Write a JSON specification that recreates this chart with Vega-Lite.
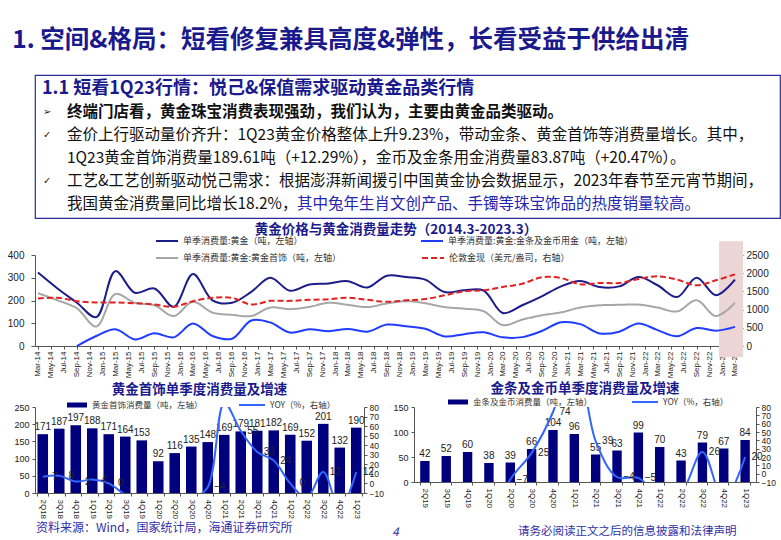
{
  "$schema": "https://vega.github.io/schema/vega-lite/v6.json",
  "background": "white",
  "padding": {"left": 7, "top": 27, "right": 5, "bottom": 2},
  "title": {"text": "1. 空间&格局：短看修复兼具高度&弹性，长看受益于供给出清", "anchor": "start", "fontSize": 24.5, "fontWeight": "bold", "color": "#1a1a8c", "font": "Noto Sans CJK SC", "offset": 21, "dx": 5},
  "config": {
    "view": {"stroke": null},
    "font": "Noto Sans CJK SC",
    "axis": {"labelFont": "Liberation Sans", "labelColor": "#222", "domainColor": "#555", "tickColor": "#555", "grid": false, "labelOverlap": false},
    "legend": {"labelFont": "Noto Sans CJK SC", "labelColor": "#333", "padding": 0, "labelLimit": 400},
    "title": {"font": "Noto Sans CJK SC"}
  },
  "datasets": {
    "notes": [
      {"line": 1, "kind": "heading", "bullet": null, "text": "1.1 短看1Q23行情：悦己&保值需求驱动黄金品类行情"},
      {"line": 2, "kind": "lead", "bullet": "➢", "text": "终端门店看，黄金珠宝消费表现强劲，我们认为，主要由黄金品类驱动。"},
      {"line": 3, "kind": "body", "bullet": "✓", "text": "金价上行驱动量价齐升：1Q23黄金价格整体上升9.23%，带动金条、黄金首饰等消费量增长。其中，"},
      {"line": 4, "kind": "body", "bullet": null, "text": "1Q23黄金首饰消费量189.61吨（+12.29%），金币及金条用金消费量83.87吨（+20.47%）。"},
      {"line": 5, "kind": "body", "bullet": "✓", "text": "工艺&工艺创新驱动悦己需求：根据澎湃新闻援引中国黄金协会数据显示，2023年春节至元宵节期间，"},
      {"line": 6, "kind": "body", "bullet": null, "text": "我国黄金消费量同比增长18.2%，"},
      {"line": 6, "kind": "highlight", "bullet": null, "text": "其中兔年生肖文创产品、手镯等珠宝饰品的热度销量较高。"}
    ],
    "footer": [
      {"kind": "source", "text": "资料来源：Wind，国家统计局，海通证券研究所"},
      {"kind": "page", "text": "4"},
      {"kind": "notice", "text": "请务必阅读正文之后的信息披露和法律声明"}
    ],
    "trend": [
      {"date": "2014-03-01", "total": 323, "jewelry": 232, "barcoin": null, "gold": 1305},
      {"date": "2014-06-01", "total": 253, "jewelry": 201, "barcoin": null, "gold": 1324},
      {"date": "2014-09-01", "total": 190, "jewelry": 165, "barcoin": 0, "gold": 1232},
      {"date": "2014-12-01", "total": 127, "jewelry": 86, "barcoin": 44, "gold": 1195},
      {"date": "2015-03-01", "total": 329, "jewelry": 228, "barcoin": 74, "gold": 1195},
      {"date": "2015-06-01", "total": 234, "jewelry": 190, "barcoin": 29, "gold": 1176},
      {"date": "2015-09-01", "total": 253, "jewelry": 179, "barcoin": 56, "gold": 1140},
      {"date": "2015-12-01", "total": 172, "jewelry": 132, "barcoin": 38, "gold": 1075},
      {"date": "2016-03-01", "total": 316, "jewelry": 194, "barcoin": 99, "gold": 1232},
      {"date": "2016-06-01", "total": 201, "jewelry": 147, "barcoin": 44, "gold": 1324},
      {"date": "2016-09-01", "total": 190, "jewelry": 137, "barcoin": 32, "gold": 1324},
      {"date": "2016-12-01", "total": 238, "jewelry": 132, "barcoin": 112, "gold": 1140},
      {"date": "2017-03-01", "total": 300, "jewelry": 169, "barcoin": 103, "gold": 1240},
      {"date": "2017-06-01", "total": 243, "jewelry": 162, "barcoin": 59, "gold": 1240},
      {"date": "2017-09-01", "total": 270, "jewelry": 172, "barcoin": 74, "gold": 1268},
      {"date": "2017-12-01", "total": 275, "jewelry": 190, "barcoin": 65, "gold": 1287},
      {"date": "2018-03-01", "total": 285, "jewelry": 181, "barcoin": 75, "gold": 1324},
      {"date": "2018-06-01", "total": 257, "jewelry": 171, "barcoin": 63, "gold": 1268},
      {"date": "2018-09-01", "total": 309, "jewelry": 187, "barcoin": 94, "gold": 1213},
      {"date": "2018-12-01", "total": 303, "jewelry": 197, "barcoin": 87, "gold": 1255},
      {"date": "2019-03-01", "total": 292, "jewelry": 188, "barcoin": 76, "gold": 1291},
      {"date": "2019-06-01", "total": 237, "jewelry": 171, "barcoin": 42, "gold": 1392},
      {"date": "2019-09-01", "total": 245, "jewelry": 164, "barcoin": 52, "gold": 1502},
      {"date": "2019-12-01", "total": 244, "jewelry": 153, "barcoin": 60, "gold": 1529},
      {"date": "2020-03-01", "total": 145, "jewelry": 92, "barcoin": 38, "gold": 1621},
      {"date": "2020-06-01", "total": 179, "jewelry": 116, "barcoin": 39, "gold": 1712},
      {"date": "2020-09-01", "total": 218, "jewelry": 135, "barcoin": 66, "gold": 1887},
      {"date": "2020-12-01", "total": 262, "jewelry": 148, "barcoin": 104, "gold": 1868},
      {"date": "2021-03-01", "total": 286, "jewelry": 169, "barcoin": 96, "gold": 1695},
      {"date": "2021-06-01", "total": 259, "jewelry": 179, "barcoin": 55, "gold": 1731},
      {"date": "2021-09-01", "total": 262, "jewelry": 181, "barcoin": 63, "gold": 1731},
      {"date": "2021-12-01", "total": 303, "jewelry": 182, "barcoin": 99, "gold": 1840},
      {"date": "2022-03-01", "total": 267, "jewelry": 169, "barcoin": 70, "gold": 1914},
      {"date": "2022-06-01", "total": 215, "jewelry": 152, "barcoin": 43, "gold": 1822},
      {"date": "2022-09-01", "total": 300, "jewelry": 201, "barcoin": 79, "gold": 1667},
      {"date": "2022-12-01", "total": 223, "jewelry": 132, "barcoin": 67, "gold": 1804},
      {"date": "2023-03-01", "total": 292, "jewelry": 190, "barcoin": 84, "gold": 1969}
    ],
    "jewelryQ": [
      {"q": "2Q18", "tons": 171, "yoy": 7},
      {"q": "3Q18", "tons": 187, "yoy": 8},
      {"q": "4Q18", "tons": 197, "yoy": 2},
      {"q": "1Q19", "tons": 188, "yoy": 4},
      {"q": "2Q19", "tons": 171, "yoy": 0},
      {"q": "3Q19", "tons": 164, "yoy": -12},
      {"q": "4Q19", "tons": 153, "yoy": -22},
      {"q": "1Q20", "tons": 92, "yoy": -51},
      {"q": "2Q20", "tons": 116, "yoy": -32},
      {"q": "3Q20", "tons": 135, "yoy": -18},
      {"q": "4Q20", "tons": 148, "yoy": -4},
      {"q": "1Q21", "tons": 169, "yoy": 84},
      {"q": "2Q21", "tons": 179, "yoy": 55},
      {"q": "3Q21", "tons": 181, "yoy": 33},
      {"q": "4Q21", "tons": 182, "yoy": 24},
      {"q": "1Q22", "tons": 169, "yoy": 0},
      {"q": "2Q22", "tons": 152, "yoy": -15},
      {"q": "3Q22", "tons": 201, "yoy": 12},
      {"q": "4Q22", "tons": 132, "yoy": -27},
      {"q": "1Q23", "tons": 190, "yoy": 12}
    ],
    "barcoinQ": [
      {"q": "2Q19", "tons": 42, "yoy": -30},
      {"q": "3Q19", "tons": 52, "yoy": -28},
      {"q": "4Q19", "tons": 60, "yoy": -24},
      {"q": "1Q20", "tons": 38, "yoy": -58},
      {"q": "2Q20", "tons": 39, "yoy": -7},
      {"q": "3Q20", "tons": 66, "yoy": 25},
      {"q": "4Q20", "tons": 104, "yoy": 74},
      {"q": "1Q21", "tons": 96, "yoy": 153},
      {"q": "2Q21", "tons": 55, "yoy": 39},
      {"q": "3Q21", "tons": 63, "yoy": -4},
      {"q": "4Q21", "tons": 99, "yoy": -5},
      {"q": "1Q22", "tons": 70, "yoy": -27},
      {"q": "2Q22", "tons": 43, "yoy": -22},
      {"q": "3Q22", "tons": 79, "yoy": 26},
      {"q": "4Q22", "tons": 67, "yoy": -32},
      {"q": "1Q23", "tons": 84, "yoy": 20}
    ]
  },
  "spacing": 3,
  "resolve": {
    "scale": {"color": "independent", "fill": "independent", "stroke": "independent", "strokeDash": "independent"},
    "legend": {"color": "independent", "fill": "independent", "stroke": "independent", "strokeDash": "independent"}
  },
  "vconcat": [
    {
      "width": 745,
      "height": 143,
      "view": {"stroke": "#2b2b9b", "strokeWidth": 1.2},
      "data": {"name": "notes"},
      "encoding": {
        "y": {"field": "line", "type": "ordinal", "scale": {"type": "point", "padding": 0.6}, "axis": {"domain": false, "ticks": false, "labelOpacity": 0, "labelFontSize": 10, "labelPadding": 3, "title": null}},
        "x": {"datum": 0, "type": "quantitative", "scale": {"domain": [0, 1]}, "axis": null}
      },
      "layer": [
        {"transform": [{"filter": "datum.kind == 'heading'"}], "mark": {"type": "text", "align": "left", "baseline": "middle", "dx": 7, "fontSize": 18, "fontWeight": "bold", "color": "#1a1a8c"}, "encoding": {"text": {"field": "text"}}},
        {"transform": [{"filter": "datum.bullet != null"}], "mark": {"type": "text", "align": "left", "baseline": "middle", "dx": 8, "fontSize": 10, "font": "DejaVu Sans", "color": "#222"}, "encoding": {"text": {"field": "bullet"}}},
        {"transform": [{"filter": "datum.kind == 'lead'"}], "mark": {"type": "text", "align": "left", "baseline": "middle", "dx": 32, "fontSize": 15.5, "fontWeight": "bold", "color": "#111"}, "encoding": {"text": {"field": "text"}}},
        {"transform": [{"filter": "datum.kind == 'body'"}], "mark": {"type": "text", "align": "left", "baseline": "middle", "dx": 32, "fontSize": 15.5, "color": "#111"}, "encoding": {"text": {"field": "text"}}},
        {"transform": [{"filter": "datum.kind == 'highlight'"}], "mark": {"type": "text", "align": "left", "baseline": "middle", "dx": 262, "fontSize": 15.5, "color": "#2525b0"}, "encoding": {"text": {"field": "text"}}}
      ]
    },
    {
      "width": 704,
      "height": 91,
      "title": {"text": "黄金价格与黄金消费量走势（2014.3-2023.3）", "fontSize": 13.5, "fontWeight": "bold", "color": "#1a1a8c", "offset": -7, "dx": 9},
      "layer": [
        {
          "data": {"values": [{"start": "2022-12-16", "end": "2023-04-08"}]},
          "mark": {"type": "rect", "color": "#ecd5d5"},
          "encoding": {
            "x": {"field": "start", "type": "temporal", "scale": {"domain": [{"year": 2014, "month": 2, "date": 15}, {"year": 2023, "month": 3, "date": 20}]}, "axis": {"format": "%b-%y", "labelAngle": -90, "tickCount": {"interval": "month", "step": 2}, "labelFontSize": 8, "labelFlush": false, "labelOverlap": false, "title": null, "tickSize": 3, "labelPadding": 2}},
            "x2": {"field": "end"},
            "y": {"datum": 460, "type": "quantitative", "scale": {"domain": [0, 400]}, "axis": null},
            "y2": {"datum": -48}
          }
        },
        {
          "layer": [
            {
              "data": {"name": "trend"},
              "transform": [{"fold": ["total", "barcoin"], "as": ["series", "value"]}],
              "mark": {"type": "line", "interpolate": "catmull-rom", "strokeWidth": 2},
              "encoding": {
                "x": {"field": "date", "type": "temporal"},
                "y": {"field": "value", "type": "quantitative", "scale": {"domain": [0, 400]}, "axis": {"orient": "left", "values": [0, 100, 200, 300, 400], "labelFontSize": 10, "tickSize": 4, "labelPadding": 7, "labelOverlap": false, "title": null}},
                "color": {"field": "series", "type": "nominal", "scale": {"domain": ["total", "barcoin"], "range": ["#1c1c8a", "#1f3cff"]},
                  "legend": {"orient": "none", "legendX": 120, "legendY": -26, "columns": 2, "direction": "horizontal", "title": null, "symbolType": "stroke", "symbolSize": 484, "symbolStrokeWidth": 2, "labelFontSize": 9, "columnPadding": 114,
                    "labelExpr": "datum.value == 'total' ? '单季消费量:黄金（吨，左轴）' : '单季消费量:黄金:金条及金币用金（吨，左轴）'"}}
              }
            },
            {
              "data": {"name": "trend"},
              "transform": [{"fold": ["jewelry"], "as": ["series", "value"]}],
              "mark": {"type": "line", "interpolate": "catmull-rom", "strokeWidth": 2},
              "encoding": {
                "x": {"field": "date", "type": "temporal"},
                "y": {"field": "value", "type": "quantitative", "scale": {"domain": [0, 400]}, "axis": {"orient": "left", "values": [0, 100, 200, 300, 400], "labelFontSize": 10, "tickSize": 4, "labelPadding": 7, "labelOverlap": false, "title": null}},
                "stroke": {"field": "series", "type": "nominal", "scale": {"domain": ["jewelry", "gold"], "range": ["#a6a6a6", "#e02222"]},
                  "legend": {"orient": "none", "legendX": 120, "legendY": -9, "columns": 2, "direction": "horizontal", "title": null, "symbolType": "stroke", "symbolSize": 484, "symbolStrokeWidth": 2, "labelFontSize": 9, "columnPadding": 76,
                    "labelExpr": "datum.value == 'jewelry' ? '单季消费量:黄金:黄金首饰（吨，左轴）' : '伦敦金现（美元/盎司，右轴）'"}},
                "strokeDash": {"field": "series", "type": "nominal", "scale": {"domain": ["jewelry", "gold"], "range": [[1, 0], [6, 3]]},
                  "legend": {"orient": "none", "legendX": 120, "legendY": -9, "columns": 2, "direction": "horizontal", "title": null, "symbolType": "stroke", "symbolSize": 484, "symbolStrokeWidth": 2, "labelFontSize": 9, "columnPadding": 76,
                    "labelExpr": "datum.value == 'jewelry' ? '单季消费量:黄金:黄金首饰（吨，左轴）' : '伦敦金现（美元/盎司，右轴）'"}}
              }
            }
          ]
        },
        {
          "data": {"name": "trend"},
          "transform": [{"fold": ["gold"], "as": ["series", "value"]}],
          "mark": {"type": "line", "interpolate": "catmull-rom", "strokeWidth": 2},
          "encoding": {
            "x": {"field": "date", "type": "temporal"},
            "y": {"field": "value", "type": "quantitative", "scale": {"domain": [0, 2500]}, "axis": {"orient": "right", "values": [0, 500, 1000, 1500, 2000, 2500], "format": "d", "labelFontSize": 10, "tickSize": 4, "labelPadding": 3, "labelOverlap": false, "title": null}},
            "stroke": {"field": "series", "type": "nominal"},
            "strokeDash": {"field": "series", "type": "nominal"}
          }
        }
      ],
      "resolve": {"scale": {"y": "independent"}}
    },
    {
      "hconcat": [
        {
          "width": 329,
          "height": 86,
          "title": {"text": "黄金首饰单季度消费量及增速", "fontSize": 13.5, "fontWeight": "bold", "color": "#1a1a8c", "offset": -5},
          "data": {"name": "jewelryQ"},
          "encoding": {
            "x": {"field": "q", "type": "ordinal", "sort": null, "scale": {"paddingInner": 0.36, "paddingOuter": 0.15}, "axis": {"labelAngle": 90, "labelFontSize": 8, "title": null, "tickBand": "extent", "tickSize": 3, "labelPadding": 3}}
          },
          "layer": [
            {
              "layer": [
                {
                  "mark": {"type": "bar"},
                  "encoding": {
                    "y": {"field": "tons", "type": "quantitative", "scale": {"domain": [0, 250]}, "axis": {"orient": "left", "values": [0, 50, 100, 150, 200, 250], "labelFontSize": 9, "tickSize": 3, "labelPadding": 3, "labelOverlap": false, "title": null}},
                    "fill": {"datum": "黄金首饰消费量（吨，左轴）", "type": "nominal", "scale": {"range": ["#00007f"]}, "legend": {"orient": "none", "legendX": 31, "legendY": -13, "title": null, "symbolType": "M-1,-0.25H1V0.25H-1Z", "symbolSize": 400, "labelFontSize": 8.5}}
                  }
                },
                {
                  "mark": {"type": "text", "baseline": "bottom", "dy": -2, "fontSize": 10, "font": "Liberation Sans", "color": "#222"},
                  "encoding": {"y": {"field": "tons", "type": "quantitative", "scale": {"domain": [0, 250]}, "axis": {"orient": "left", "values": [0, 50, 100, 150, 200, 250], "labelFontSize": 9, "tickSize": 3, "labelPadding": 3, "labelOverlap": false, "title": null}}, "text": {"field": "tons", "type": "quantitative"}}
                }
              ]
            },
            {
              "layer": [
                {
                  "mark": {"type": "line", "interpolate": "catmull-rom", "clip": true, "strokeWidth": 2},
                  "encoding": {
                    "y": {"field": "yoy", "type": "quantitative", "scale": {"domain": [-10, 80]}, "axis": {"orient": "right", "values": [-10, 0, 10, 20, 30, 40, 50, 60, 70, 80], "labelFontSize": 8.5, "tickSize": 3, "labelPadding": 2, "labelOverlap": false, "title": null}},
                    "stroke": {"datum": "YOY（%，右轴）", "type": "nominal", "scale": {"range": ["#3366ff"]}, "legend": {"orient": "none", "legendX": 203, "legendY": -16, "title": null, "symbolType": "stroke", "symbolSize": 676, "symbolStrokeWidth": 2, "labelFontSize": 8.5}}
                  }
                },
                {
                  "transform": [{"filter": "datum.yoy >= -10 && datum.yoy <= 80"}],
                  "mark": {"type": "text", "dx": 12, "fontSize": 10, "font": "Liberation Sans", "color": "#222"},
                  "encoding": {"y": {"field": "yoy", "type": "quantitative", "scale": {"domain": [-10, 80]}, "axis": {"orient": "right", "values": [-10, 0, 10, 20, 30, 40, 50, 60, 70, 80], "labelFontSize": 8.5, "tickSize": 3, "labelPadding": 2, "labelOverlap": false, "title": null}}, "text": {"field": "yoy", "type": "quantitative"}}
                }
              ]
            }
          ],
          "resolve": {"scale": {"y": "independent"}}
        },
        {
          "width": 342,
          "height": 75,
          "title": {"text": "金条及金币单季度消费量及增速", "fontSize": 13.5, "fontWeight": "bold", "color": "#1a1a8c", "offset": -7},
          "data": {"name": "barcoinQ"},
          "encoding": {
            "x": {"field": "q", "type": "ordinal", "sort": null, "scale": {"paddingInner": 0.56, "paddingOuter": 0.29}, "axis": {"labelAngle": 90, "labelFontSize": 8, "title": null, "tickBand": "extent", "tickSize": 3, "labelPadding": 3}}
          },
          "layer": [
            {
              "layer": [
                {
                  "mark": {"type": "bar"},
                  "encoding": {
                    "y": {"field": "tons", "type": "quantitative", "scale": {"domain": [0, 150]}, "axis": {"orient": "left", "values": [0, 50, 100, 150], "labelFontSize": 9, "tickSize": 3, "labelPadding": 3, "labelOverlap": false, "title": null}},
                    "fill": {"datum": "金条及金币消费量（吨，左轴）", "type": "nominal", "scale": {"range": ["#00007f"]}, "legend": {"orient": "none", "legendX": 33, "legendY": -16, "title": null, "symbolType": "M-1,-0.25H1V0.25H-1Z", "symbolSize": 400, "labelFontSize": 8.5}}
                  }
                },
                {
                  "mark": {"type": "text", "baseline": "bottom", "dy": -2, "fontSize": 10, "font": "Liberation Sans", "color": "#222"},
                  "encoding": {"y": {"field": "tons", "type": "quantitative", "scale": {"domain": [0, 150]}, "axis": {"orient": "left", "values": [0, 50, 100, 150], "labelFontSize": 9, "tickSize": 3, "labelPadding": 3, "labelOverlap": false, "title": null}}, "text": {"field": "tons", "type": "quantitative"}}
                }
              ]
            },
            {
              "layer": [
                {
                  "mark": {"type": "line", "interpolate": "catmull-rom", "clip": true, "strokeWidth": 2},
                  "encoding": {
                    "y": {"field": "yoy", "type": "quantitative", "scale": {"domain": [-10, 80]}, "axis": {"orient": "right", "values": [-10, 0, 10, 20, 30, 40, 50, 60, 70, 80], "labelFontSize": 8.5, "tickSize": 3, "labelPadding": 2, "labelOverlap": false, "title": null}},
                    "stroke": {"datum": "YOY（%，右轴）", "type": "nominal", "scale": {"range": ["#3366ff"]}, "legend": {"orient": "none", "legendX": 217, "legendY": -19, "title": null, "symbolType": "stroke", "symbolSize": 676, "symbolStrokeWidth": 2, "labelFontSize": 8.5}}
                  }
                },
                {
                  "transform": [{"filter": "datum.yoy >= -10 && datum.yoy <= 80"}],
                  "mark": {"type": "text", "dx": 12, "fontSize": 10, "font": "Liberation Sans", "color": "#222"},
                  "encoding": {"y": {"field": "yoy", "type": "quantitative", "scale": {"domain": [-10, 80]}, "axis": {"orient": "right", "values": [-10, 0, 10, 20, 30, 40, 50, 60, 70, 80], "labelFontSize": 8.5, "tickSize": 3, "labelPadding": 2, "labelOverlap": false, "title": null}}, "text": {"field": "yoy", "type": "quantitative"}}
                }
              ]
            }
          ],
          "resolve": {"scale": {"y": "independent"}}
        }
      ],
      "spacing": 8,
      "resolve": {
        "scale": {"color": "independent", "fill": "independent", "stroke": "independent", "strokeDash": "independent"},
        "legend": {"color": "independent", "fill": "independent", "stroke": "independent", "strokeDash": "independent"}
      }
    },
    {
      "width": 761,
      "height": 12,
      "data": {"name": "footer"},
      "encoding": {
        "x": {"datum": 0, "type": "quantitative", "scale": {"domain": [0, 1]}, "axis": null}
      },
      "layer": [
        {"transform": [{"filter": "datum.kind == 'source'"}], "mark": {"type": "text", "align": "left", "baseline": "middle", "dx": 1, "dy": -11, "fontSize": 12, "color": "#2f2fa8"}, "encoding": {"text": {"field": "text"}}},
        {"transform": [{"filter": "datum.kind == 'page'"}], "mark": {"type": "text", "align": "left", "baseline": "middle", "dx": 357, "dy": -7, "fontSize": 12, "fontStyle": "italic", "color": "#2f2fa8"}, "encoding": {"text": {"field": "text"}}},
        {"transform": [{"filter": "datum.kind == 'notice'"}], "mark": {"type": "text", "align": "left", "baseline": "middle", "dx": 483, "dy": -7, "fontSize": 11.5, "color": "#2f2fa8"}, "encoding": {"text": {"field": "text"}}}
      ]
    }
  ]
}
